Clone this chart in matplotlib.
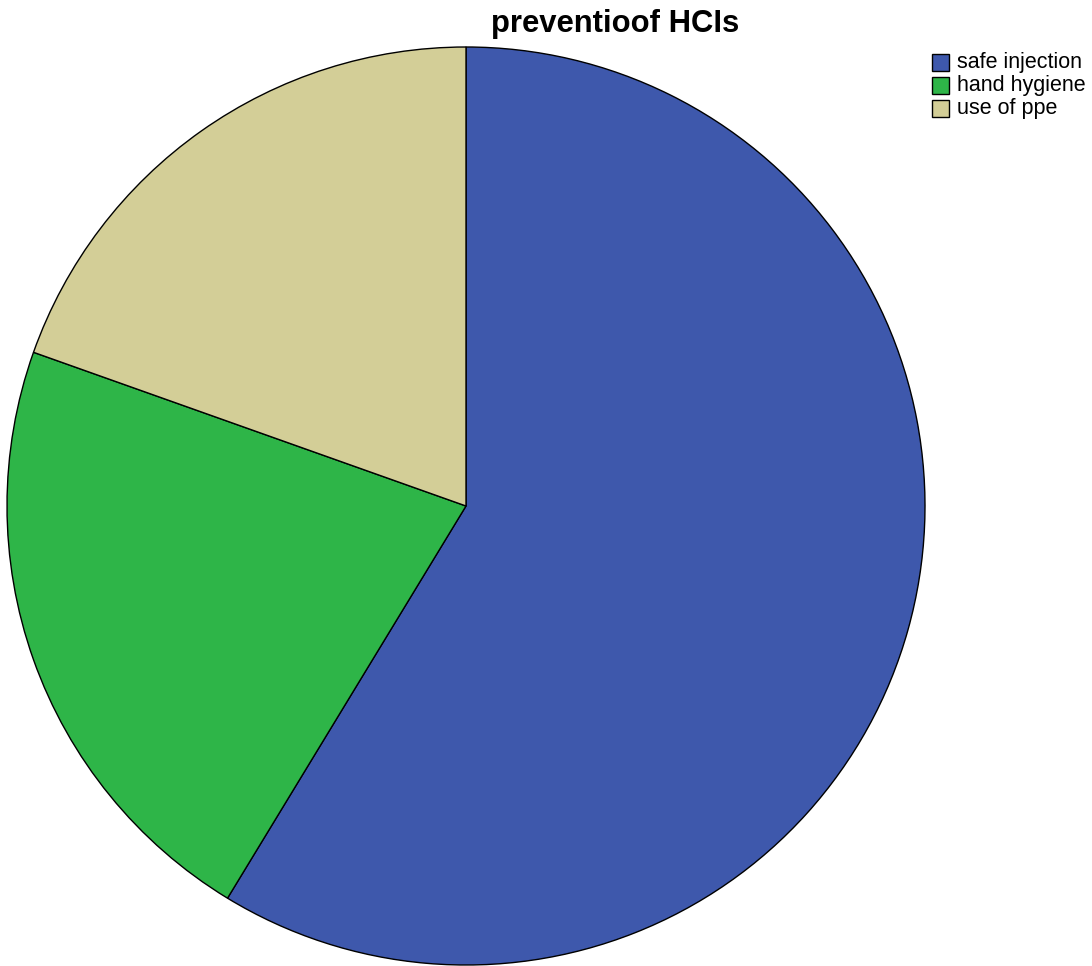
import matplotlib
matplotlib.use("Agg")
import matplotlib.pyplot as plt
from matplotlib.patches import Rectangle

plt.rcParams["font.family"] = ["Liberation Sans", "DejaVu Sans"]

categories = ["safe injection", "hand hygiene", "use of ppe"]
counts = [27, 10, 9]
colors = ["#3E58AC", "#2EB548", "#D3CE97"]
title = "preventioof HCIs"

W, H = 1092, 966
fig = plt.figure(figsize=(W / 100, H / 100), dpi=100)
ax = fig.add_axes([0, 0, 1, 1])
ax.set_xlim(0, W)
ax.set_ylim(0, H)
ax.set_aspect("equal")
ax.axis("off")

ax.pie(counts, colors=colors, startangle=90, counterclock=False,
       center=(466, H - 506), radius=459,
       wedgeprops=dict(edgecolor="black", linewidth=1.0))
ax.set_xlim(0, W)
ax.set_ylim(0, H)

ax.text(615, H - 24, title, ha="center", va="center",
        fontsize=22.3, fontweight="bold", color="black")

# legend: colour swatches with labels
sw, sh = 17, 17
x0, y_top, step = 932, 54, 23
for i, (lab, col) in enumerate(zip(categories, colors)):
    yc = H - (y_top + sh / 2 + i * step)
    ax.add_patch(Rectangle((x0, yc - sh / 2), sw, sh, facecolor=col,
                           edgecolor="black", linewidth=1.0))
    ax.text(957, yc, lab, ha="left", va="center",
            fontsize=15.5, color="black")

fig.savefig("out.png", dpi=100)
